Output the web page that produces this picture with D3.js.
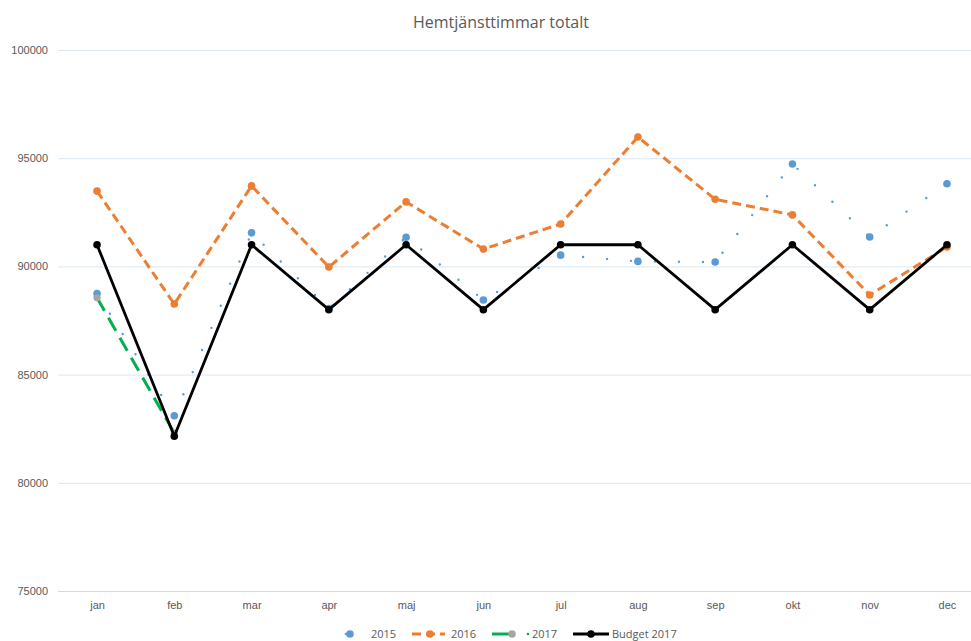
<!DOCTYPE html>
<html>
<head>
<meta charset="utf-8">
<script src="https://cdn.jsdelivr.net/npm/d3@7"></script>
<style>
  body { margin: 0; background: #fff; }
  svg { display: block; font-family: "Open Sans", sans-serif; }
</style>
</head>
<body>
<div id="main"></div>
<script>
const w = 971, h = 641;
const months = ['jan', 'feb', 'mar', 'apr', 'maj', 'jun', 'jul', 'aug', 'sep', 'okt', 'nov', 'dec'];
const yTicks = [75000, 80000, 85000, 90000, 95000, 100000];

// värden
const v2015 = [88750, 83100, 91550, 88050, 91350, 88450, 90520, 90230, 90200, 94730, 91360, 93820];
const v2016 = [93480, 88260, 93720, 89970, 92980, 90800, 91960, 95980, 93100, 92380, 88680, 90900];
const v2017 = [88550, 82300];
const budget2017 = [91000, 82150, 91000, 88000, 91000, 88000, 91000, 91000, 88000, 91000, 88000, 91000];

const blue = '#5b9bd5', orange = '#ed7d31', green = '#00b050', grey = '#a5a5a5';

const svg = d3.select('#main')
            .append('svg')
            .attr('width', w)
            .attr('height', h)

const x = d3.scalePoint()
            .domain(months)
            .range([58.4, 985.6])
            .padding(0.5)
const y = d3.scaleLinear()
            .domain([75000, 100000])
            .range([591, 50])

svg.append('text')
    .text('Hemtjänsttimmar totalt')
    .attr('x', 501)
    .attr('y', 28)
    .attr('text-anchor', 'middle')
    .attr('fill', '#595959')
    .style('font-size', '16px')

// rutnät + y-axel
const yAxis = d3.axisLeft(y)
                .tickValues(yTicks)
                .tickSize(-(w - 58))
                .tickPadding(10)
                .tickFormat(d3.format('d'))
const yLine = svg.append('g')
                .attr('transform', 'translate(58,0)')
                .call(yAxis)
yLine.select('.domain').remove()
yLine.selectAll('line')
    .attr('stroke', d => d === 75000 ? '#d9d9d9' : '#dae6f4')
    .attr('stroke-width', 1)
yLine.selectAll('text')
    .attr('fill', '#595959')
    .style('font-size', '11px')
    .attr('x', -10)

const xAxis = d3.axisBottom(x).tickSize(0).tickPadding(10)
const xLine = svg.append('g')
                .attr('transform', 'translate(0,591)')
                .call(xAxis)
xLine.select('.domain').remove()
xLine.selectAll('text')
    .attr('fill', '#595959')
    .style('font-size', '11px')

const line = d3.line()
            .x((d, i) => x(months[i]))
            .y(d => y(d))

function series(vals, opts) {
    const g = svg.append('g')
    g.append('path')
        .datum(vals)
        .attr('d', line)
        .attr('fill', 'none')
        .attr('stroke', opts.stroke)
        .attr('stroke-width', opts.width)
        .attr('stroke-dasharray', opts.dash || null)
        .attr('stroke-linecap', opts.cap || 'butt')
        .attr('stroke-linejoin', 'round')
    g.selectAll('circle')
        .data(vals)
        .enter()
        .append('circle')
        .attr('cx', (d, i) => x(months[i]))
        .attr('cy', d => y(d))
        .attr('r', opts.r)
        .attr('fill', opts.marker)
}

series(v2015, { stroke: blue, width: 2.4, dash: '0 24', cap: 'round', r: 3.8, marker: blue })
series(v2016, { stroke: orange, width: 3, dash: '9 5', r: 3.8, marker: orange })
series(v2017, { stroke: green, width: 3, dash: '15 8', r: 3.6, marker: grey })
series(budget2017, { stroke: '#000', width: 2.8, r: 3.8, marker: '#000' })

// legend
const legend = svg.append('g').attr('class', 'legend')
const ly = 634
const lt = legend.append('g').style('font-size', '11px').attr('fill', '#595959')

legend.append('circle').attr('cx', 346).attr('cy', ly).attr('r', 1.3).attr('fill', blue)
legend.append('circle').attr('cx', 350).attr('cy', ly).attr('r', 3.8).attr('fill', blue)
lt.append('text').attr('x', 371).attr('y', ly + 4).text('2015')

legend.append('line').attr('x1', 412).attr('x2', 445).attr('y1', ly).attr('y2', ly)
    .attr('stroke', orange).attr('stroke-width', 3).attr('stroke-dasharray', '9 5')
legend.append('circle').attr('cx', 430).attr('cy', ly).attr('r', 3.8).attr('fill', orange)
lt.append('text').attr('x', 451).attr('y', ly + 4).text('2016')

legend.append('line').attr('x1', 492).attr('x2', 510).attr('y1', ly).attr('y2', ly)
    .attr('stroke', green).attr('stroke-width', 3)
legend.append('circle').attr('cx', 512).attr('cy', ly).attr('r', 3.8).attr('fill', grey)
legend.append('circle').attr('cx', 528).attr('cy', ly).attr('r', 1.3).attr('fill', green)
lt.append('text').attr('x', 532).attr('y', ly + 4).text('2017')

legend.append('line').attr('x1', 573).attr('x2', 609).attr('y1', ly).attr('y2', ly)
    .attr('stroke', '#000').attr('stroke-width', 2.8)
legend.append('circle').attr('cx', 591).attr('cy', ly).attr('r', 3.8).attr('fill', '#000')
lt.append('text').attr('x', 612).attr('y', ly + 4).text('Budget 2017')
</script>
</body>
</html>
